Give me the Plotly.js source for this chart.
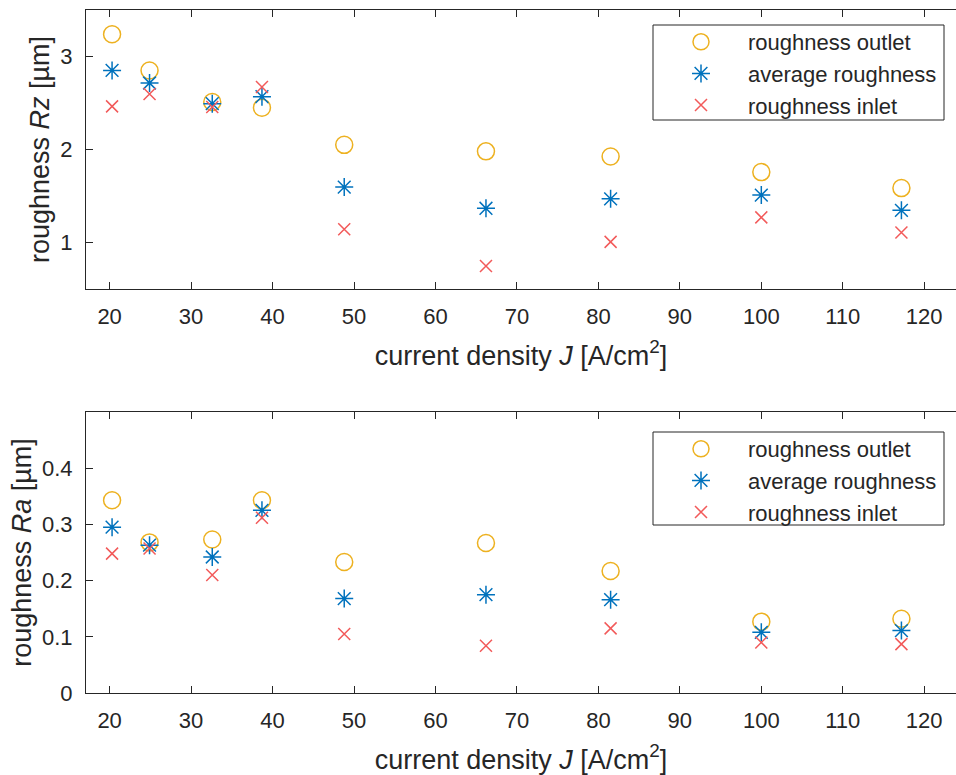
<!DOCTYPE html>
<html>
<head>
<meta charset="utf-8">
<script src="https://cdn.plot.ly/plotly-3.0.1.min.js"></script>
<style>html,body{margin:0;padding:0;background:#fff;}#chart{width:956px;height:775px;}</style>
</head>
<body>
<div id="chart"></div>
<script>
// current density J [A/cm^2]
const currentDensity = [20.3, 24.9, 32.6, 38.7, 48.8, 66.2, 81.5, 100.0, 117.2];

// Rz [µm]
const rzOutlet  = [3.24, 2.85, 2.51, 2.45, 2.05, 1.98, 1.925, 1.757, 1.585];
const rzAverage = [2.85, 2.715, 2.493, 2.568, 1.596, 1.368, 1.47, 1.51, 1.346];
const rzInlet   = [2.464, 2.597, 2.457, 2.672, 1.143, 0.747, 1.007, 1.27, 1.107];

// Ra [µm]
const raOutlet  = [0.343, 0.268, 0.273, 0.343, 0.233, 0.267, 0.217, 0.127, 0.132];
const raAverage = [0.295, 0.263, 0.242, 0.325, 0.168, 0.175, 0.166, 0.108, 0.111];
const raInlet   = [0.248, 0.257, 0.210, 0.312, 0.105, 0.084, 0.115, 0.090, 0.087];

const seriesNames = ["roughness outlet", "average roughness", "roughness inlet"];
const xTicks = [20, 30, 40, 50, 60, 70, 80, 90, 100, 110, 120];
const rzTicks = [1, 2, 3];
const raTicks = [0, 0.1, 0.2, 0.3, 0.4];

const FONT = "Liberation Sans, Arial, Helvetica, sans-serif";
const AX = "#262626";
const cOut = "#EDB120", cAvg = "#0072BD", cIn = "#F25A5A";

const W = 956, H = 775;
const mL = 86, mR = 0, mT = 10, mB = 82;
const plotH = H - mT - mB; // 683
const topDom = [(693 - 289) / plotH, 1];
const botDom = [0, (693 - 412) / plotH];

function styles(name) {
  if (name === seriesNames[0]) return {symbol: "circle-open", size: 17, color: cOut, line: {color: cOut, width: 1.5}};
  if (name === seriesNames[1]) return {symbol: "asterisk-open", size: 15, color: cAvg, line: {color: cAvg, width: 1.5}};
  return {symbol: "x-thin-open", size: 12, color: cIn, line: {color: cIn, width: 1.5}};
}

const topData = [rzOutlet, rzAverage, rzInlet];
const botData = [raOutlet, raAverage, raInlet];
const traces = [];
topData.forEach((ys, i) => {
  traces.push({x: currentDensity, y: ys, type: "scatter", mode: "markers", name: seriesNames[i],
    xaxis: "x", yaxis: "y", legend: "legend", marker: styles(seriesNames[i])});
});
botData.forEach((ys, i) => {
  traces.push({x: currentDensity, y: ys, type: "scatter", mode: "markers", name: seriesNames[i],
    xaxis: "x2", yaxis: "y2", legend: "legend2", marker: styles(seriesNames[i])});
});

const xRange = [17.1, 123.9];
function xax(anchor) {
  return {
    anchor: anchor, domain: [0, 1], range: xRange, tickvals: xTicks, ticktext: xTicks.map(String),
    ticks: "inside", ticklen: 7, tickcolor: AX, tickwidth: 1, showline: true, linecolor: AX, linewidth: 1,
    mirror: "ticks", showgrid: false, zeroline: false, ticklabelstandoff: 8,
    tickfont: {family: FONT, size: 22, color: AX},
    title: {text: "current density <i>J</i> [A/cm<sup>2</sup>]", font: {family: FONT, size: 27, color: AX}, standoff: 17}
  };
}
function yax(anchor, dom, range, ticks, title) {
  return {
    anchor: anchor, domain: dom, range: range, tickvals: ticks, ticktext: ticks.map(String),
    ticks: "inside", ticklen: 7, tickcolor: AX, tickwidth: 1, showline: true, linecolor: AX, linewidth: 1,
    mirror: false, showgrid: false, zeroline: false, ticklabelstandoff: 8,
    tickfont: {family: FONT, size: 22, color: AX},
    title: {text: title, font: {family: FONT, size: 27, color: AX}, standoff: 2}
  };
}

// legend box positions (pixels) -> paper fractions
const plotW = W - mL - mR;
function px2x(p) { return (p - mL) / plotW; }
function px2y(p) { return (H - mB - p) / plotH; }

function legendCfg(topPx) {
  return {
    x: px2x(654), y: px2y(topPx - 4), xanchor: "left", yanchor: "top",
    bgcolor: "rgba(0,0,0,0)", borderwidth: 0, itemwidth: 84, tracegroupgap: 0,
    font: {family: FONT, size: 22, color: AX}
  };
}

const layout = {
  width: W, height: H,
  margin: {l: mL, r: mR, t: mT, b: mB, pad: 0},
  paper_bgcolor: "#fff", plot_bgcolor: "#fff",
  showlegend: true,
  xaxis: xax("y"),
  yaxis: yax("x", topDom, [0.5, 3.5], rzTicks, "roughness <i>Rz</i> [µm]"),
  xaxis2: xax("y2"),
  yaxis2: yax("x2", botDom, [0, 0.5], raTicks, "roughness <i>Ra</i> [µm]"),
  legend: legendCfg(25),
  legend2: legendCfg(432),
  shapes: [
    {type: "rect", xref: "paper", yref: "paper", x0: px2x(653), x1: px2x(944), y0: px2y(25), y1: px2y(120),
     line: {color: AX, width: 1}, fillcolor: "rgba(0,0,0,0)", layer: "below"},
    {type: "rect", xref: "paper", yref: "paper", x0: px2x(653), x1: px2x(944), y0: px2y(432), y1: px2y(525),
     line: {color: AX, width: 1}, fillcolor: "rgba(0,0,0,0)", layer: "below"}
  ]
};

Plotly.newPlot("chart", traces, layout, {displayModeBar: false, staticPlot: true});
</script>
</body>
</html>
